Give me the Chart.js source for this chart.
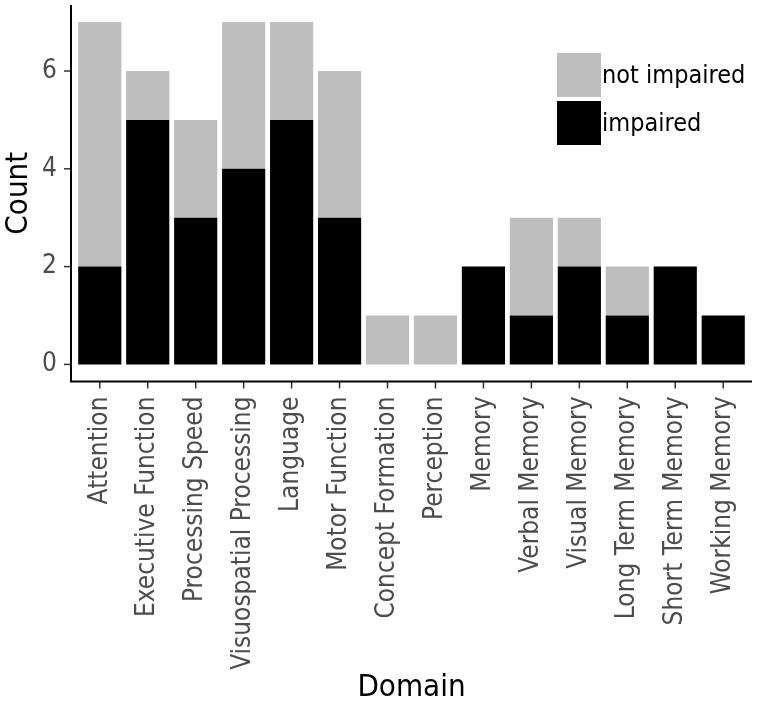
<!DOCTYPE html>
<html>
<head>
<meta charset="utf-8">
<script src="https://cdn.jsdelivr.net/npm/chart.js@4.4.1/dist/chart.umd.min.js"></script>
<style>
  body { margin: 0; background: #fff; }
  canvas { display: block; }
</style>
</head>
<body>
<canvas id="domainChart" width="760" height="702"></canvas>
<script>
// data
var domains = ['Attention', 'Executive Function', 'Processing Speed', 'Visuospatial Processing',
    'Language', 'Motor Function', 'Concept Formation', 'Perception', 'Memory', 'Verbal Memory',
    'Visual Memory', 'Long Term Memory', 'Short Term Memory', 'Working Memory'];
var impaired = [2, 5, 3, 4, 5, 3, 0, 0, 2, 1, 2, 1, 2, 1];
var notImpaired = [5, 1, 2, 3, 2, 3, 1, 1, 0, 2, 1, 1, 0, 0];
var yTicks = [0, 2, 4, 6];

var FONT = '"DejaVu Sans Condensed", "DejaVu Sans", sans-serif';

// axis lines, tick marks and the legend inside the panel (ggplot classic look)
var ggDecor = {
    id: 'ggDecor',
    afterDraw: function (chart) {
        var ctx = chart.ctx;
        var area = chart.chartArea;
        var x = chart.scales.x, y = chart.scales.y;
        var step = (area.right - area.left) / domains.length;
        var left = area.left - 0.1 * step;
        var right = area.right + 0.1 * step;
        ctx.save();
        // ticks
        ctx.strokeStyle = '#333333';
        ctx.lineWidth = 1.5;
        yTicks.forEach(function (v) {
            var py = y.getPixelForValue(v);
            ctx.beginPath(); ctx.moveTo(left - 7, py); ctx.lineTo(left, py); ctx.stroke();
        });
        domains.forEach(function (d, i) {
            var px = x.getPixelForValue(i);
            ctx.beginPath(); ctx.moveTo(px, area.bottom); ctx.lineTo(px, area.bottom + 7); ctx.stroke();
        });
        // axis lines
        ctx.strokeStyle = '#000';
        ctx.lineWidth = 2;
        ctx.beginPath();
        ctx.moveTo(left, area.top);
        ctx.lineTo(left, area.bottom);
        ctx.lineTo(right, area.bottom);
        ctx.stroke();
        // legend
        var items = [chart.data.datasets[1], chart.data.datasets[0]];
        ctx.font = '25px ' + FONT;
        ctx.textBaseline = 'middle';
        ctx.textAlign = 'left';
        items.forEach(function (ds, i) {
            var by = 53 + i * 48;
            ctx.fillStyle = ds.backgroundColor;
            ctx.fillRect(557, by, 44, 44);
            ctx.fillStyle = '#000';
            ctx.fillText(ds.label, 602, by + 23);
        });
        ctx.restore();
    }
};

new Chart(document.getElementById('domainChart'), {
    type: 'bar',
    data: {
        labels: domains,
        datasets: [
            { label: 'impaired', data: impaired, backgroundColor: '#000000' },
            { label: 'not impaired', data: notImpaired, backgroundColor: '#bebebe' }
        ]
    },
    options: {
        responsive: false,
        animation: false,
        categoryPercentage: 0.9,
        barPercentage: 1.0,
        layout: { padding: { top: 5, right: 12.8, left: 0, bottom: 0 } },
        plugins: {
            legend: { display: false },
            tooltip: { enabled: false }
        },
        scales: {
            x: {
                stacked: true,
                offset: true,
                grid: { display: false, drawTicks: false },
                border: { display: false },
                ticks: {
                    minRotation: 90, maxRotation: 90, autoSkip: false,
                    padding: 15, color: '#4d4d4d',
                    font: { family: FONT, size: 26 }
                },
                title: {
                    display: true, text: 'Domain', color: '#000',
                    font: { family: FONT, size: 31 }, padding: { top: 0, bottom: -5 }
                },
                afterFit: function (s) { s.height = 320.5; s.paddingLeft = 0; s.paddingRight = 0; }
            },
            y: {
                stacked: true,
                min: -0.35, max: 7.35,
                grid: { display: false, drawTicks: false },
                border: { display: false },
                afterBuildTicks: function (s) { s.ticks = yTicks.map(function (v) { return { value: v }; }); },
                ticks: {
                    padding: 19, color: '#4d4d4d',
                    font: { family: FONT, size: 26 }
                },
                title: {
                    display: true, text: 'Count', color: '#000',
                    font: { family: FONT, size: 31 }, padding: { top: 0, bottom: 0 }
                },
                afterFit: function (s) { s.width = 75.8; s.paddingTop = 0; s.paddingBottom = 0; }
            }
        }
    },
    plugins: [ggDecor]
});
</script>
</body>
</html>
